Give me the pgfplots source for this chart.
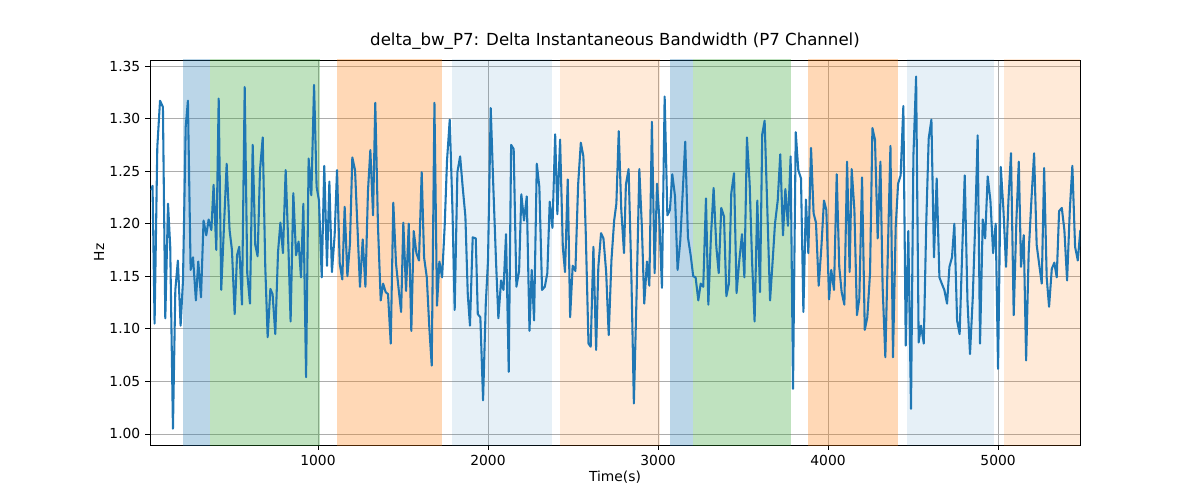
\documentclass[border=0pt]{standalone}
\usepackage{fontspec}
\setmainfont{DejaVu Sans}
\usepackage{pgfplots}
\pgfplotsset{compat=1.18}
\definecolor{tabblue}{HTML}{1F77B4}
\definecolor{taborange}{HTML}{FF7F0E}
\definecolor{tabgreen}{HTML}{2CA02C}
\begin{document}
\fontsize{10pt}{12pt}\selectfont
\begin{tikzpicture}
\begin{axis}[name=a,
  scale only axis, width=9.3in, height=3.85in,
  xmin=12, xmax=5482, ymin=0.9895, ymax=1.3557,
  xtick={1000,2000,3000,4000,5000},
  xticklabel style={/pgf/number format/.cd,set thousands separator={}},
  ytick={1.00,1.05,1.10,1.15,1.20,1.25,1.30,1.35},
  yticklabel style={/pgf/number format/.cd,fixed,fixed zerofill,precision=2},
  /pgf/number format/assume math mode=true,
  scaled y ticks=false,
  xtick pos=bottom, ytick pos=left,
  grid=major, grid style={color=black!32, line width=0.6pt},
  tick align=outside, tick style={black, line width=0.6pt},
  major tick length=3.5pt,
  title={delta\_bw\_P7: Delta Instantaneous Bandwidth (P7 Channel)},
  title style={font=\fontsize{12pt}{14pt}\selectfont, yshift=-2pt},
  xlabel={Time(s)}, ylabel={Hz},
  xlabel style={yshift=3pt}, ylabel style={yshift=-3pt},
  axis line style={line width=0.6pt},
]
\fill[tabblue, opacity=0.3] (axis cs:206,0.9) rectangle (axis cs:365,1.4);
\fill[tabgreen, opacity=0.3] (axis cs:365,0.9) rectangle (axis cs:1012,1.4);
\fill[taborange, opacity=0.3] (axis cs:1112,0.9) rectangle (axis cs:1729,1.4);
\fill[tabblue, opacity=0.11] (axis cs:1788,0.9) rectangle (axis cs:2376,1.4);
\fill[taborange, opacity=0.16] (axis cs:2424,0.9) rectangle (axis cs:3012,1.4);
\fill[tabblue, opacity=0.3] (axis cs:3071,0.9) rectangle (axis cs:3206,1.4);
\fill[tabgreen, opacity=0.3] (axis cs:3206,0.9) rectangle (axis cs:3782,1.4);
\fill[taborange, opacity=0.3] (axis cs:3882,0.9) rectangle (axis cs:4412,1.4);
\fill[tabblue, opacity=0.11] (axis cs:4465,0.9) rectangle (axis cs:4976,1.4);
\fill[taborange, opacity=0.16] (axis cs:5035,0.9) rectangle (axis cs:5482,1.4);
\addplot[tabblue, line width=1.5pt, line join=round] coordinates {
(20,1.232)(27,1.236)(39,1.105)(55,1.273)(71,1.317)(88,1.311)(102,1.110)(118,1.219)(131,1.178)(147,1.005)
(161,1.137)(176,1.165)(192,1.103)(206,1.146)(222,1.292)(235,1.317)(251,1.156)(265,1.168)(282,1.127)(296,1.164)
(312,1.130)(327,1.203)(343,1.189)(357,1.204)(373,1.194)(386,1.237)(402,1.175)(416,1.319)(431,1.137)(463,1.257)
(480,1.194)(494,1.175)(510,1.114)(524,1.170)(537,1.178)(553,1.123)(569,1.330)(584,1.153)(600,1.124)(616,1.275)
(631,1.180)(645,1.169)(659,1.251)(675,1.282)(690,1.159)(704,1.092)(720,1.138)(733,1.133)(749,1.095)(765,1.173)
(779,1.201)(794,1.172)(810,1.251)(826,1.178)(839,1.107)(855,1.229)(871,1.170)(886,1.183)(900,1.149)(914,1.219)
(930,1.054)(945,1.262)(961,1.227)(977,1.332)(992,1.235)(1006,1.222)(1022,1.149)(1037,1.255)(1053,1.160)(1067,1.240)
(1082,1.154)(1098,1.189)(1112,1.251)(1128,1.162)(1143,1.147)(1157,1.216)(1173,1.150)(1188,1.181)(1202,1.263)(1218,1.251)
(1247,1.140)(1263,1.185)(1279,1.140)(1294,1.231)(1308,1.270)(1324,1.208)(1337,1.315)(1353,1.197)(1369,1.127)(1383,1.143)
(1398,1.135)(1412,1.133)
(1428,1.086)(1443,1.220)(1459,1.162)(1475,1.137)(1489,1.116)(1502,1.201)(1518,1.136)(1534,1.200)(1549,1.098)(1563,1.193)
(1579,1.172)(1594,1.165)(1610,1.249)(1624,1.168)(1640,1.149)(1655,1.101)(1669,1.065)(1685,1.315)(1700,1.122)(1714,1.164)
(1730,1.149)(1745,1.197)(1759,1.260)(1775,1.299)(1791,1.213)(1804,1.118)(1820,1.249)(1836,1.264)(1851,1.235)(1867,1.207)
(1881,1.133)(1894,1.103)(1910,1.187)(1928,1.186)(1940,1.114)(1955,1.111)(1971,1.032)(1987,1.124)(2000,1.165)(2016,1.310)
(2032,1.232)(2047,1.165)(2061,1.110)(2077,1.146)(2091,1.137)(2106,1.190)(2122,1.059)(2136,1.275)(2151,1.271)(2167,1.140)
(2183,1.155)(2196,1.228)(2212,1.203)(2228,1.226)(2244,1.098)(2257,1.156)(2271,1.108)(2287,1.257)(2302,1.235)(2318,1.137)
(2334,1.140)(2349,1.153)(2363,1.221)(2379,1.196)(2395,1.285)(2408,1.209)(2424,1.280)(2440,1.178)(2453,1.154)(2469,1.242)
(2483,1.111)(2498,1.160)(2514,1.155)(2530,1.237)(2546,1.277)(2561,1.264)(2575,1.191)(2591,1.086)(2604,1.083)(2620,1.178)
(2636,1.080)(2649,1.159)(2665,1.191)(2679,1.186)(2695,1.154)(2710,1.094)(2726,1.165)(2742,1.203)(2755,1.219)(2769,1.288)
(2784,1.213)(2800,1.172)(2811,1.237)(2827,1.252)(2843,1.153)(2858,1.029)(2874,1.133)(2890,1.252)(2905,1.197)(2919,1.124)
(2935,1.164)(2949,1.141)(2964,1.297)(2980,1.153)(2994,1.238)(3007,1.207)(3023,1.139)(3039,1.321)(3055,1.208)(3070,1.213)
(3084,1.247)(3100,1.226)(3115,1.156)(3131,1.184)(3145,1.229)(3160,1.278)(3176,1.187)(3192,1.170)(3207,1.150)(3221,1.149)
(3237,1.127)(3251,1.143)(3266,1.140)(3282,1.224)(3296,1.123)(3311,1.187)(3327,1.234)(3343,1.178)(3357,1.153)(3372,1.215)
(3388,1.207)(3402,1.131)(3417,1.143)(3431,1.229)(3447,1.248)(3462,1.134)(3478,1.165)(3494,1.190)(3508,1.149)(3523,1.282)
(3539,1.238)(3553,1.165)(3568,1.107)(3584,1.222)(3600,1.135)(3613,1.285)(3627,1.298)(3643,1.213)(3659,1.127)(3672,1.159)
(3688,1.200)(3704,1.222)(3719,1.266)(3735,1.189)(3749,1.233)(3764,1.198)(3780,1.264)(3794,1.043)(3810,1.287)(3825,1.251)
(3841,1.243)(3855,1.116)(3870,1.223)(3884,1.172)(3900,1.272)(3915,1.210)(3929,1.201)(3945,1.141)(3961,1.178)(3976,1.222)
(3990,1.213)(4006,1.128)(4019,1.156)(4035,1.137)(4051,1.247)(4066,1.159)(4080,1.135)(4096,1.123)(4112,1.259)(4127,1.154)
(4139,1.252)
(4155,1.213)(4170,1.113)(4184,1.129)(4200,1.244)(4216,1.099)(4231,1.111)(4247,1.153)(4261,1.291)(4276,1.280)(4292,1.186)
(4308,1.259)(4321,1.140)(4337,1.073)(4353,1.181)(4367,1.274)(4382,1.073)(4398,1.197)(4412,1.238)(4427,1.246)(4443,1.312)
(4457,1.084)(4472,1.193)(4488,1.024)(4502,1.264)(4518,1.340)(4533,1.087)(4547,1.103)(4563,1.086)(4578,1.203)(4592,1.281)
(4608,1.299)(4623,1.168)(4639,1.243)(4655,1.149)(4669,1.143)(4684,1.137)(4700,1.124)(4714,1.159)(4729,1.168)(4743,1.200)
(4759,1.108)(4774,1.095)(4790,1.178)(4804,1.246)(4820,1.127)(4835,1.076)(4851,1.129)(4865,1.197)(4880,1.284)(4894,1.086)
(4910,1.204)(4924,1.186)(4939,1.245)(4955,1.222)(4971,1.172)(4986,1.200)(5000,1.062)(5016,1.254)(5031,1.215)(5047,1.159)
(5061,1.222)(5076,1.267)(5092,1.113)(5108,1.204)(5122,1.259)(5135,1.159)(5151,1.189)(5165,1.070)(5180,1.172)(5196,1.222)
(5212,1.267)(5227,1.180)(5243,1.160)(5257,1.143)(5271,1.253)(5286,1.149)(5300,1.121)(5316,1.157)(5331,1.163)(5345,1.149)
(5359,1.212)(5375,1.215)(5390,1.194)(5406,1.146)(5422,1.213)(5437,1.255)(5453,1.178)(5469,1.165)(5484,1.194)
};
\end{axis}
\useasboundingbox ([xshift=-1.50in,yshift=-0.55in]a.south west) rectangle ([xshift=1.20in,yshift=0.60in]a.north east);
\end{tikzpicture}
\end{document}
